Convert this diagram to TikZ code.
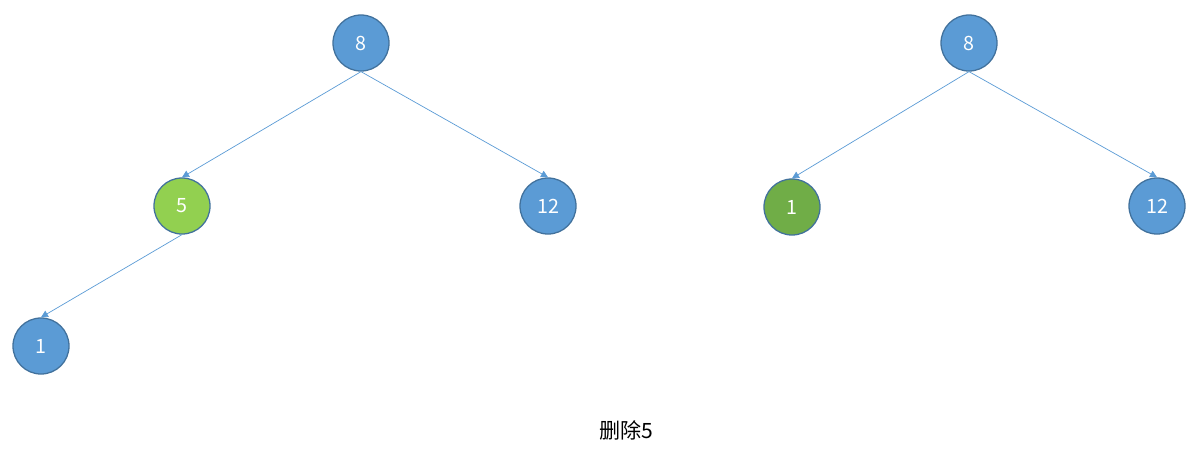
\documentclass[tikz,border=0pt]{standalone}
\usepackage{fontspec}
\setmainfont{Noto Sans CJK SC}
\usetikzlibrary{arrows.meta}
\definecolor{nodeblue}{HTML}{5B9BD5}
\definecolor{rimblue}{HTML}{41719C}
\definecolor{lightgreen}{HTML}{92D050}
\definecolor{darkgreen}{HTML}{70AD47}
\begin{document}
\begin{tikzpicture}[x=0.025cm, y=-0.025cm,
    treenode/.style={circle, draw=rimblue, line width=0.9pt, fill=nodeblue, minimum size=1.4cm, inner sep=0pt, text=white, font=\fontsize{14}{16}\selectfont},
    edge/.style={draw=nodeblue, line width=0.5pt, -{Triangle[length=5pt,width=5pt]}}]
                \useasboundingbox (0,0) rectangle (1197,469);
                \node[treenode] (root1) at (361,43) {8}; \node[treenode, fill=lightgreen] (five) at (182,206) {5}; \node[treenode] (twelve1) at (548,206) {12};
                \node[treenode] (one1) at (41,346) {1};
                \node[treenode] (root2) at (969,43) {8}; \node[treenode, fill=darkgreen] (one2) at (792,207) {1}; \node[treenode] (twelve2) at (1157,206) {12};
                \node (caption) at (626,430) {\fontsize{15}{18}\selectfont 删除5};

                \draw[edge] (root1.south) to (five.north); \draw[edge] (root1.south) to (twelve1.north);
                \draw[edge] (five.south) to (one1.north);
                \draw[edge] (root2.south) to (one2.north); \draw[edge] (root2.south) to (twelve2.north);
            \end{tikzpicture}
\end{document}
